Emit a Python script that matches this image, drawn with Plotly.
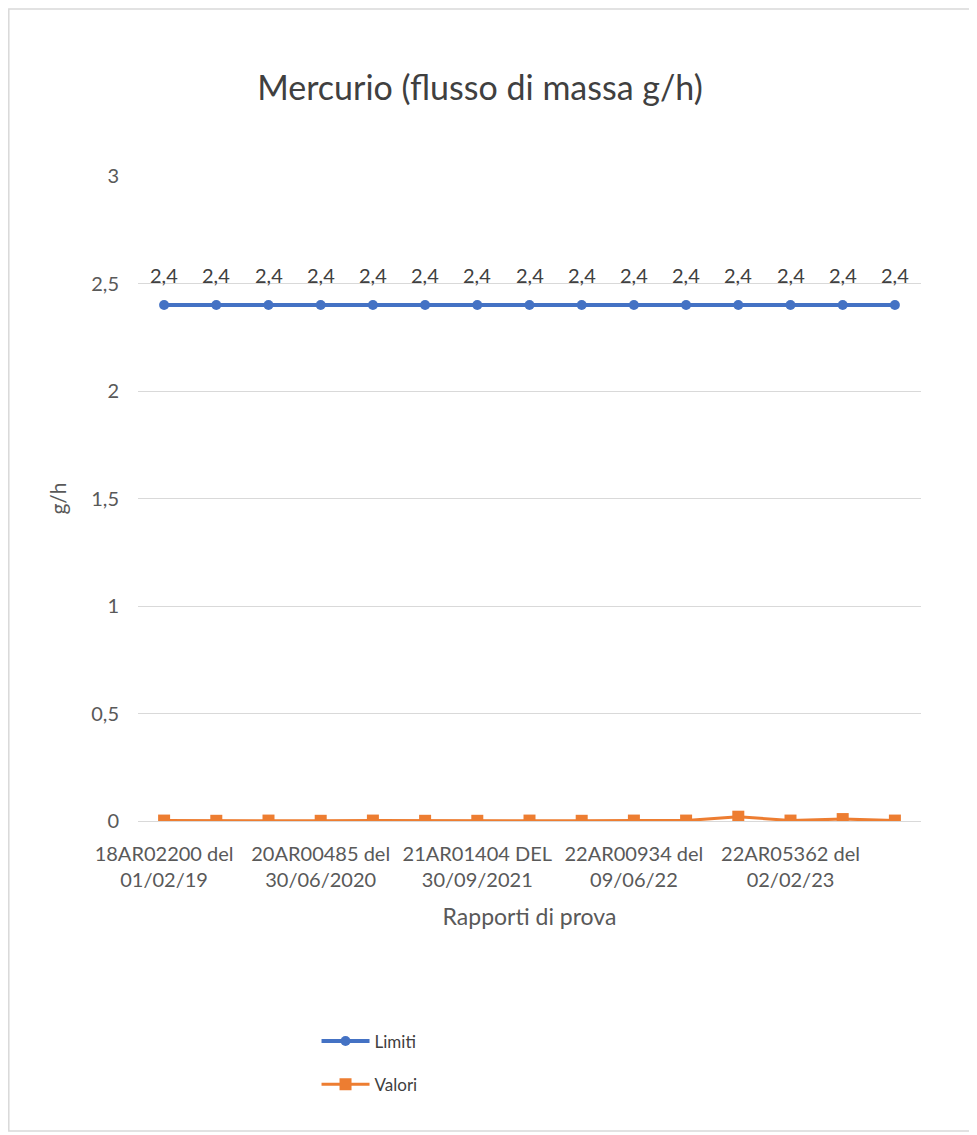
import plotly.graph_objects as go

# ---- data ----
categories = list(range(15))
tick_positions = [0, 3, 6, 9, 12]
tick_labels = [
    "18AR02200 del<br>01/02/19",
    "20AR00485 del<br>30/06/2020",
    "21AR01404 DEL<br>30/09/2021",
    "22AR00934 del<br>09/06/22",
    "22AR05362 del<br>02/02/23",
]
limiti = [2.4] * 15
valori = [0.002, 0.001, 0.002, 0.001, 0.002, 0.001, 0.001, 0.002, 0.001, 0.002, 0.002,
          0.02, 0.002, 0.009, 0.002]

BLUE = "#4472C4"
ORANGE = "#ED7D31"
FONT = "Lato"

fig = go.Figure()
fig.add_trace(go.Scatter(
    x=categories, y=limiti, name="Limiti", mode="lines+markers",
    line=dict(color=BLUE, width=4),
    marker=dict(symbol="circle", size=10, color=BLUE),
    legendgroup="a",
))
fig.add_trace(go.Scatter(
    x=categories, y=valori, name="Valori", mode="lines+markers",
    line=dict(color=ORANGE, width=3),
    marker=dict(symbol="square", size=12, color=ORANGE),
    legendgroup="b",
))

for xi, v in zip(categories, limiti):
    fig.add_annotation(
        x=xi, y=v, xref="x", yref="y", text=f"{v:.1f}".replace(".", ","),
        showarrow=False, yshift=30, font=dict(family=FONT, size=20, color="#404040"),
    )

# chart-area frame
fig.add_shape(type="rect", xref="paper", yref="paper",
              x0=-0.1650, x1=1.09, y0=-0.4806, y1=1.2590,
              line=dict(color="#D9D9D9", width=1.5), fillcolor="rgba(0,0,0,0)", layer="below")

fig.update_layout(
    width=969, height=1127,
    margin=dict(l=130, r=56, t=168, b=314),
    paper_bgcolor="white", plot_bgcolor="white",
    separators=",.",
    font=dict(family=FONT, size=20, color="#595959"),
    title=dict(text="Mercurio (flusso di massa g/h)", x=(480 - 8) / 969, xanchor="center",
               xref="container", y=1 - 80 / 1127, yanchor="middle",
               font=dict(family=FONT, size=34, color="#404040")),
    showlegend=True,
    legend=dict(orientation="v", x=0.228, xanchor="left", y=-0.314, yanchor="top",
                font=dict(family=FONT, size=17, color="#404040"),
                itemwidth=48,
                tracegroupgap=18, bgcolor="rgba(0,0,0,0)"),
    xaxis=dict(range=[-0.5, 14.5], tickmode="array", tickvals=tick_positions,
               ticktext=tick_labels, showgrid=False, zeroline=False, showline=False,
               ticks="", ticklabelstandoff=19,
               tickfont=dict(family=FONT, size=20, color="#595959"),
               title=dict(text="Rapporti di prova", standoff=18,
                          font=dict(family=FONT, size=23, color="#595959"))),
    yaxis=dict(range=[0, 3], dtick=0.5, tick0=0, showgrid=True, gridcolor="#D9D9D9",
               gridwidth=1, zeroline=True, zerolinecolor="#D9D9D9", zerolinewidth=1,
               showline=False, ticks="", ticklabelstandoff=18,
               tickfont=dict(family=FONT, size=20, color="#595959"),
               title=dict(text="g/h", standoff=18,
                          font=dict(family=FONT, size=21, color="#595959"))),
)

fig.write_html("out.html")
